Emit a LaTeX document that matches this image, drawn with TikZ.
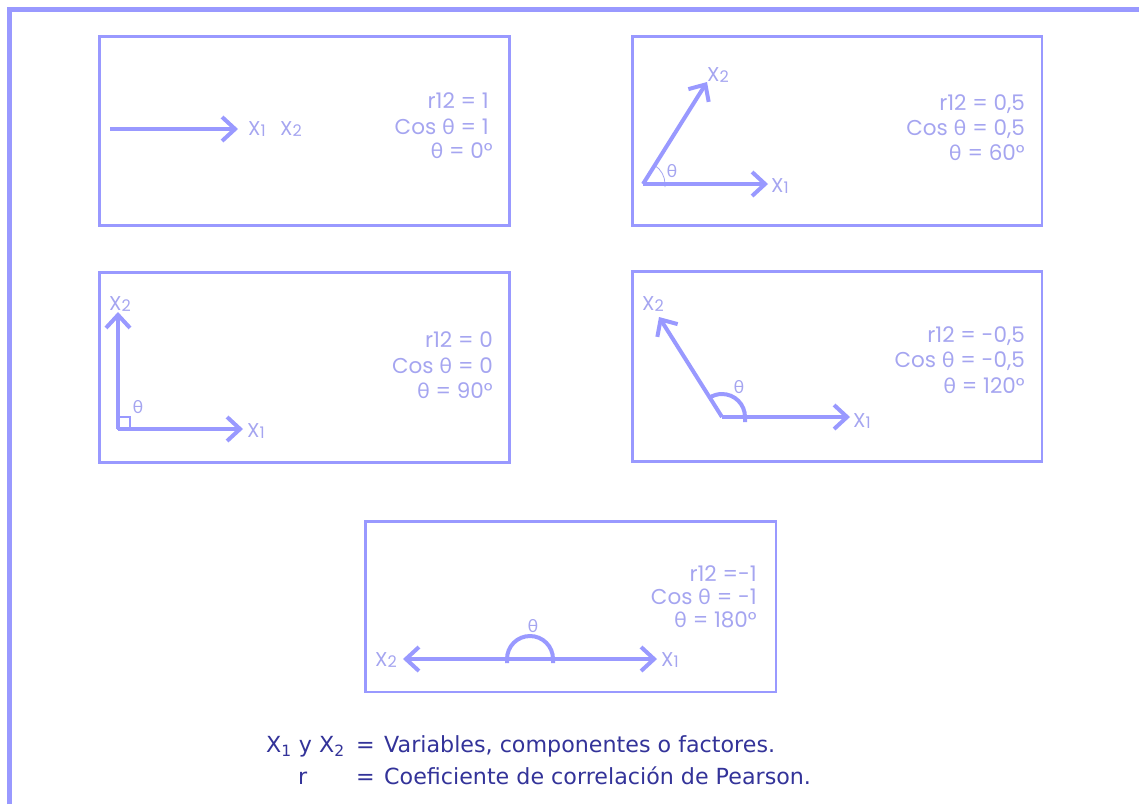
\documentclass[tikz,border=0pt]{standalone}
\usepackage{fontspec}
\setmainfont{Poppins}
\newfontfamily\gr{Lato}
\newfontfamily\leg{DejaVu Sans}
\usetikzlibrary{arrows.meta,calc}
\definecolor{framec}{RGB}{153,153,255}
\definecolor{txtc}{RGB}{165,165,240}
\definecolor{legc}{RGB}{51,51,153}
\newcommand\thet{{\gr θ}}
\newcommand\Xl[1]{X\raisebox{-1pt}{\fontsize{16}{16}\selectfont #1}}
\tikzset{
  panel/.style={draw=framec,line width=2.7pt},
  vec/.style={draw=framec,line width=4pt,-{Straight Barb[length=13pt,width=24pt]}},
  vecboth/.style={draw=framec,line width=4pt,{Straight Barb[length=13pt,width=24pt]}-{Straight Barb[length=13pt,width=24pt]}},
  arcthick/.style={draw=framec,line width=4pt},
  arcthin/.style={draw=txtc,line width=0.8pt},
  rt/.style={anchor=base east,inner sep=0pt,text=txtc,font=\fontsize{21.5}{21.5}\selectfont},
  lab/.style={inner sep=0pt,text=txtc,font=\fontsize{20}{20}\selectfont},
  th/.style={inner sep=0pt,text=txtc,font=\fontsize{18}{18}\selectfont\gr},
  legt/.style={anchor=base west,inner sep=0pt,text=legc,font=\fontsize{22.2}{22.2}\selectfont\leg},
}
\begin{document}
\begin{tikzpicture}[x=1pt,y=-1pt]
\useasboundingbox (0,0) rectangle (1139,804);
% outer frame
\draw[draw=framec,line width=4.6pt] (9.3,804) -- (9.3,9.3) -- (1139,9.3);
% panels
\draw[panel] (99.5,36.5) rectangle (509.5,225.5);
\draw[panel] (632.5,36.5) rectangle (1042,225.5);
\draw[panel] (99.5,272.5) rectangle (509.5,462.3);
\draw[panel] (632.5,271.5) rectangle (1042,461.3);
\draw[panel] (365.3,521.5) rectangle (776,692);

% ---- panel 1
\coordinate (p1o) at (110,129);
\coordinate (p1t) at (238,129);
\draw[vec] (p1o) -- (p1t);
\node[lab,anchor=base west] (p1x1) at (248,135) {\Xl{1}};
\node[lab,anchor=base west] (p1x2) at (280,135) {\Xl{2}};
\node[rt] (p1a) at (489,108) {r12 = 1};
\node[rt] (p1b) at (489,134) {Cos \thet{} = 1};
\node[rt] (p1c) at (493,158) {\thet{} = 0°};

% ---- panel 2
\coordinate (p2o) at (643,184);
\coordinate (p2a) at (768,184);
\coordinate (p2b) at (707,82);
\draw[arcthin] ($(p2o)+(22,3)$) -- ++(0,-3) arc[start angle=0,end angle=-58,radius=22];
\draw[vec] (p2o) -- (p2a);
\draw[vec] (p2o) -- (p2b);
\node[lab,anchor=base west] (p2x1) at (771,192) {\Xl{1}};
\node[lab,anchor=base west] (p2x2) at (707,81) {\Xl{2}};
\node[th] (p2th) at (672,171) {θ};
\node[rt] (p2r1) at (1025,110) {r12 = 0,5};
\node[rt] (p2r2) at (1025,135) {Cos \thet{} = 0,5};
\node[rt] (p2r3) at (1025,160) {\thet{} = 60°};

% ---- panel 3
\coordinate (p3o) at (118,429);
\coordinate (p3a) at (243,429);
\coordinate (p3b) at (118,312);
\draw[draw=framec,line width=2.5pt] (p3o) rectangle ++(12,-12);
\draw[vec] (p3o) -- (p3a);
\draw[vec] (p3o) -- (p3b);
\node[lab,anchor=base west] (p3x1) at (247,437) {\Xl{1}};
\node[lab,anchor=base west] (p3x2) at (109,310) {\Xl{2}};
\node[th] (p3th) at (138,407) {θ};
\node[rt] (p3r1) at (493,347) {r12 = 0};
\node[rt] (p3r2) at (493,373) {Cos \thet{} = 0};
\node[rt] (p3r3) at (493,398) {\thet{} = 90°};

% ---- panel 4
\coordinate (p4o) at (722,417);
\coordinate (p4a) at (850,417);
\coordinate (p4b) at (659,317);
\draw[arcthick] ($(p4o)+(23,5)$) -- ++(0,-5) arc[start angle=0,end angle=-124,radius=23];
\draw[vec] (p4o) -- (p4a);
\draw[vec] (p4o) -- (p4b);
\node[lab,anchor=base west] (p4x1) at (853,427) {\Xl{1}};
\node[lab,anchor=base west] (p4x2) at (642,310) {\Xl{2}};
\node[th] (p4th) at (739,387) {θ};
\node[rt] (p4r1) at (1025,342) {r12 = -0,5};
\node[rt] (p4r2) at (1025,367) {Cos \thet{} = -0,5};
\node[rt] (p4r3) at (1025,393) {\thet{} = 120°};

% ---- panel 5
\coordinate (p5c) at (530,659);
\coordinate (p5l) at (403,659);
\coordinate (p5r) at (657,659);
\draw[arcthick] ($(p5c)+(23,4)$) -- ++(0,-4) arc[start angle=0,end angle=-180,radius=23] -- ++(0,4);
\draw[vecboth] (p5l) -- (p5r);
\node[lab,anchor=base west] (p5x1) at (661,666) {\Xl{1}};
\node[lab,anchor=base west] (p5x2) at (375,666) {\Xl{2}};
\node[th] (p5th) at (533,626) {θ};
\node[rt] (p5r1) at (757,581) {r12 =-1};
\node[rt] (p5r2) at (757,604) {Cos \thet{} = -1};
\node[rt] (p5r3) at (757,627) {\thet{} = 180°};

% ---- legend
\node[legt] (l1a) at (266,752) {X\textsubscript{1} y X\textsubscript{2}};
\node[legt,fill=white,inner sep=1pt] (l1b) at (355,752) {=};
\node[legt] (l1c) at (384,752) {Variables, componentes o factores.};
\node[legt] (l2a) at (298,784) {r};
\node[legt] (l2b) at (356,784) {=};
\node[legt] (l2c) at (384,784) {Coeficiente de correlación de Pearson.};
\end{tikzpicture}
\end{document}
